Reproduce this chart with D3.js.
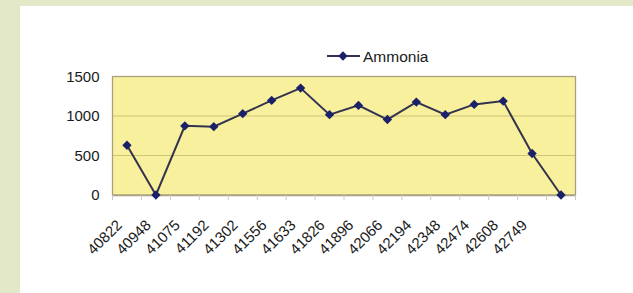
<!DOCTYPE html>
<html>
<head>
<meta charset="utf-8">
<script src="https://cdn.jsdelivr.net/npm/d3@7"></script>
<style>
  html, body { margin: 0; padding: 0; background: #e3e9c8; }
  svg { display: block; }
</style>
</head>
<body>
<svg id="chart" width="633" height="293"></svg>
<script>
const categories = ["40822","40948","41075","41192","41302","41556","41633","41826","41896","42066","42194","42348","42474","42608","42749",""];
const ammonia = [630, 0, 875, 865, 1030, 1197, 1353, 1017, 1134, 955, 1176, 1017, 1147, 1189, 525, 0];
const yTicks = [0, 500, 1000, 1500];
const seriesName = "Ammonia";

const svg = d3.select("#chart");
// white panel
svg.append("rect").attr("x", 20).attr("y", 6).attr("width", 613).attr("height", 287).attr("fill", "#ffffff");

const m = { left: 112.5, right: 575.5, top: 76.5, bottom: 195 };
const x = d3.scaleBand().domain(d3.range(categories.length)).range([m.left, m.right]);
const y = d3.scaleLinear().domain([0, 1500]).range([m.bottom, m.top]);

// plot area
svg.append("rect")
  .attr("x", m.left).attr("y", m.top)
  .attr("width", m.right - m.left).attr("height", m.bottom - m.top)
  .attr("fill", "#f8f09c");

// gridlines
svg.append("g").selectAll("line").data(yTicks.filter(d => d > 0 && d < 1500)).join("line")
  .attr("x1", m.left).attr("x2", m.right)
  .attr("y1", d => y(d)).attr("y2", d => y(d))
  .attr("stroke", "#cfc47a").attr("stroke-width", 1.2);

// border
svg.append("rect")
  .attr("x", m.left).attr("y", m.top)
  .attr("width", m.right - m.left).attr("height", m.bottom - m.top)
  .attr("fill", "none").attr("stroke", "#a8a080").attr("stroke-width", 1.3);

// y axis labels
const yAxis = d3.axisLeft(y).tickValues(yTicks).tickFormat(d3.format("d")).tickSize(0).tickPadding(13);
const yg = svg.append("g").attr("transform", `translate(${m.left},0)`).call(yAxis);
yg.select(".domain").remove();
yg.selectAll("text")
  .attr("font-family", "Liberation Sans, Arial, sans-serif")
  .attr("font-size", "15px").attr("fill", "#1a1a1a");

// x axis
const xAxis = d3.axisBottom(x).tickFormat(i => categories[i]).tickSize(0);
const xg = svg.append("g").attr("transform", `translate(0,${m.bottom})`).call(xAxis);
xg.select(".domain").attr("stroke", "#a8a080").attr("stroke-width", 1.3);
xg.selectAll(".tick line").remove();
xg.selectAll("text")
  .attr("font-family", "Liberation Sans, Arial, sans-serif")
  .attr("font-size", "15px").attr("fill", "#1a1a1a")
  .attr("text-anchor", "end")
  .attr("dy", 0).attr("y", 0)
  .attr("transform", "translate(-4,31) rotate(-45)");

// tick marks at band boundaries
const bounds = d3.range(categories.length + 1).map(i => m.left + i * x.step());
svg.append("g").selectAll("line").data(bounds).join("line")
  .attr("x1", d => d).attr("x2", d => d)
  .attr("y1", m.bottom).attr("y2", m.bottom + 5)
  .attr("stroke", "#c8c8c8").attr("stroke-width", 1);

// line
const line = d3.line().x((d, i) => x(i) + x.bandwidth() / 2).y(d => y(d));
svg.append("path").datum(ammonia)
  .attr("d", line).attr("fill", "none")
  .attr("stroke", "#33334f").attr("stroke-width", 2);

const diamond = d3.symbol().type(d3.symbolDiamond2).size(56);
svg.append("g").selectAll("path").data(ammonia).join("path")
  .attr("d", diamond)
  .attr("transform", (d, i) => `translate(${x(i) + x.bandwidth() / 2},${y(d)})`)
  .attr("fill", "#1b2168");

// legend
const lg = svg.append("g");
lg.append("line").attr("x1", 327).attr("x2", 360).attr("y1", 56).attr("y2", 56)
  .attr("stroke", "#33334f").attr("stroke-width", 2);
lg.append("path").attr("d", diamond).attr("transform", "translate(343,56)").attr("fill", "#1b2168");
lg.append("text").attr("x", 363).attr("y", 61.5).text(seriesName)
  .attr("font-family", "Liberation Sans, Arial, sans-serif")
  .attr("font-size", "15.5px").attr("fill", "#1a1a1a");
</script>
</body>
</html>
